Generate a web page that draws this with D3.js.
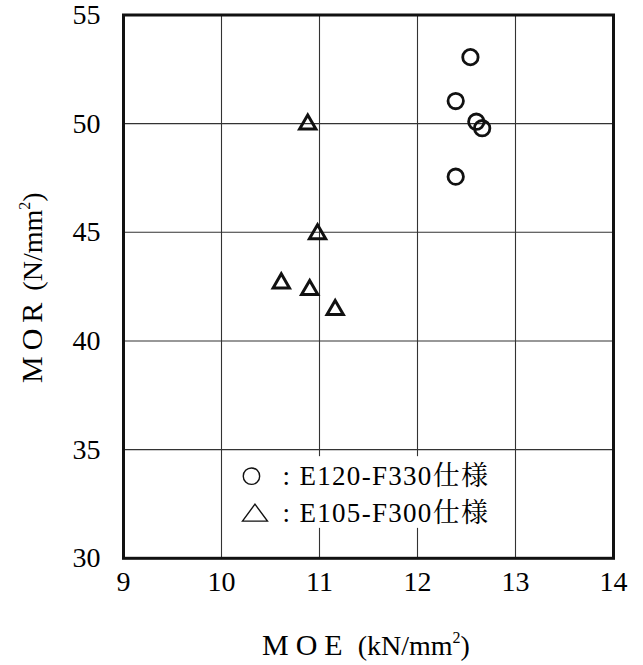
<!DOCTYPE html>
<html>
<head>
<meta charset="utf-8">
<script src="https://cdn.jsdelivr.net/npm/d3@7"></script>
<style>
  body { margin: 0; background: #fff; }
</style>
</head>
<body>
<div id="chart"></div>
<script>
// E120-F330 spec (circles)
const moeE120 = [12.54, 12.39, 12.60, 12.66, 12.39];
const morE120 = [53.06, 51.04, 50.09, 49.79, 47.56];
// E105-F300 spec (triangles)
const moeE105 = [10.88, 10.98, 10.61, 10.90, 11.16];
const morE105 = [49.97, 44.92, 42.66, 42.35, 41.43];

const xTicks = [9, 10, 11, 12, 13, 14];
const yTicks = [30, 35, 40, 45, 50, 55];
const legendLabels = ["E120-F330仕様", "E105-F300仕様"];

const FONT = "'Liberation Serif', 'Noto Serif CJK JP', serif";

const W = 643, H = 665;
const margin = { top: 15, left: 123.5 },
  width = 490,
  height = 543.3;

const svg = d3.select("#chart").append("svg")
  .attr("width", W)
  .attr("height", H);

const g = svg.append("g")
  .attr("transform", `translate(${margin.left},${margin.top})`);

const x = d3.scaleLinear().domain([9, 14]).range([0, width]);
const y = d3.scaleLinear().domain([30, 55]).range([height, 0]);

// Grid lines
g.selectAll(".vgrid")
  .data(xTicks.slice(1, -1))
  .join("line")
  .attr("x1", d => x(d)).attr("x2", d => x(d))
  .attr("y1", 0).attr("y2", height)
  .attr("stroke", "#333")
  .attr("stroke-width", 1.1);

g.selectAll(".hgrid")
  .data(yTicks.slice(1, -1))
  .join("line")
  .attr("x1", 0).attr("x2", width)
  .attr("y1", d => y(d)).attr("y2", d => y(d))
  .attr("stroke", "#333")
  .attr("stroke-width", 1.1);

// Legend box (covers the grid)
const legend = g.append("g").attr("transform", `translate(${x(10.02)},${y(34.7)})`);
legend.append("rect")
  .attr("width", x(12.88) - x(10.02))
  .attr("height", y(31.4) - y(34.7))
  .attr("fill", "#fff");

legendLabels.forEach((label, i) => {
  const row = legend.append("g").attr("transform", `translate(0,${20 + i * 36.5})`);
  if (i === 0) {
    row.append("circle")
      .attr("cx", 28).attr("cy", 0).attr("r", 8.2)
      .attr("fill", "none").attr("stroke", "#111").attr("stroke-width", 1.4);
  } else {
    row.append("path")
      .attr("d", "M19,8.5 L31.5,-8.5 L44,8.5 Z")
      .attr("fill", "none").attr("stroke", "#111").attr("stroke-width", 1.4)
      .attr("stroke-linejoin", "miter");
  }
  row.append("text")
    .attr("x", 59).attr("y", 9)
    .style("font-family", FONT)
    .style("font-size", "27px")
    .text(":");
  row.append("text")
    .attr("x", 76).attr("y", 9)
    .style("font-family", FONT)
    .style("font-size", "27px")
    .style("letter-spacing", "1.3px")
    .text(label);
});

// Frame
g.append("rect")
  .attr("width", width).attr("height", height)
  .attr("fill", "none")
  .attr("stroke", "#111")
  .attr("stroke-width", 3);

// Tick labels
g.selectAll(".xtick")
  .data(xTicks)
  .join("text")
  .attr("x", d => x(d))
  .attr("y", height + 33)
  .attr("text-anchor", "middle")
  .style("font-family", FONT)
  .style("font-size", "28px")
  .text(d => d);

g.selectAll(".ytick")
  .data(yTicks)
  .join("text")
  .attr("x", -23)
  .attr("y", d => y(d) + 9)
  .attr("text-anchor", "end")
  .style("font-family", FONT)
  .style("font-size", "28px")
  .text(d => d);

// Points: circles
g.selectAll(".pt-circle")
  .data(d3.zip(moeE120, morE120))
  .join("circle")
  .attr("cx", d => x(d[0]))
  .attr("cy", d => y(d[1]))
  .attr("r", 7.7)
  .attr("fill", "none")
  .attr("stroke", "#111")
  .attr("stroke-width", 2.8);

// Points: triangles
g.selectAll(".pt-tri")
  .data(d3.zip(moeE105, morE105))
  .join("path")
  .attr("d", d3.symbol().type(d3.symbolTriangle).size(115)())
  .attr("transform", d => `translate(${x(d[0])},${y(d[1])})`)
  .attr("fill", "none")
  .attr("stroke", "#111")
  .attr("stroke-width", 3)
  .attr("stroke-linejoin", "miter");

// Axis titles
const xTitle = svg.append("text")
  .attr("x", 262)
  .attr("y", 655)
  .style("font-family", FONT)
  .style("font-size", "30px");
xTitle.append("tspan").style("letter-spacing", "7px").text("MOE");
xTitle.append("tspan").attr("dx", 8).style("font-size", "28px").text("(kN/mm");
xTitle.append("tspan").attr("dy", -12).style("font-size", "16px").text("2");
xTitle.append("tspan").attr("dy", 12).style("font-size", "28px").text(")");

const yTitle = svg.append("text")
  .attr("transform", "translate(42,383) rotate(-90)")
  .style("font-family", FONT)
  .style("font-size", "30px");
yTitle.append("tspan").style("letter-spacing", "6px").text("MOR");
yTitle.append("tspan").attr("dx", 6).style("font-size", "28px").text("(N/mm");
yTitle.append("tspan").attr("dy", -12).style("font-size", "16px").text("2");
yTitle.append("tspan").attr("dy", 12).style("font-size", "28px").text(")");
</script>
</body>
</html>
